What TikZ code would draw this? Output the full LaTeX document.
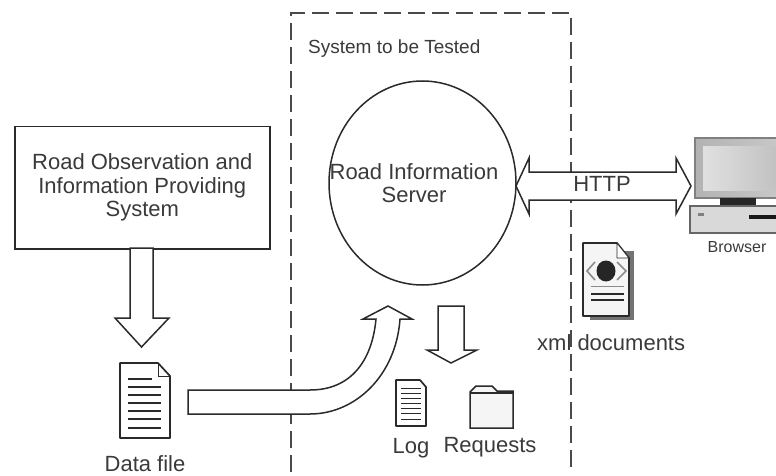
\documentclass[tikz,border=0pt]{standalone}
\usepackage{fontspec}
\setmainfont{Liberation Sans}
\usetikzlibrary{shapes.geometric}
\definecolor{ink}{HTML}{2A2A2A}
\definecolor{txt}{HTML}{3A3A3A}
\tikzset{
  x=1pt,y=-1pt,
  label text/.style={text=txt,font=\fontsize{22}{23.5}\selectfont,align=center,inner sep=0pt},
  title text/.style={text=txt,font=\fontsize{19}{21}\selectfont,inner sep=0pt},
  small text/.style={text=txt,font=\fontsize{16}{18}\selectfont,inner sep=0pt},
  outline/.style={draw=ink,line width=1.5pt},
  block/.style={draw=ink,line width=1.5pt,fill=white,line join=miter},
  boundary/.style={draw=ink!85,line width=2pt,dash pattern=on 17pt off 7pt},
  paper/.style={draw=ink,line width=1.7pt,fill=white,line join=round},
  rule/.style={draw=ink,line width=1.2pt},
}
\begin{document}
\begin{tikzpicture}
\useasboundingbox (0,0) rectangle (776,476);
% text crossed by the boundary
\node[label text,anchor=west] (xmltext) at (537,343) {xml documents};
% system boundary
\draw[boundary] (291,472) -- (291,13) -- (571,13) -- (571,472);
\node[title text,anchor=west] (systext) at (308,49) {System to be Tested};
% source system
\node[outline,fill=white,minimum width=255pt,minimum height=122pt,anchor=north west,label text,draw=ink] (source) at (14,126) {Road Observation and\\Information Providing\\System};
% server
\node[ellipse,outline,minimum width=187pt,minimum height=204pt,inner sep=0pt] (server) at (422.5,183) {};
\node[label text] (servertext) at (414,183) {Road Information\\Server};
% arrow source -> data file
\draw[block] (130,248) -- (130,318) -- (115,318) -- (141.5,347) -- (169,318) -- (153,318) -- (153,248) -- cycle;
% data file
\draw[paper] (120,363) -- (158,363) -- (170,376) -- (170,438) -- (120,438) -- cycle;
\draw[line width=.8pt,draw=ink] (158,363) -- (158,376) -- (170,376);
\foreach \y/\e in {379/152,387/161,395/161,403/161,411/161,419/161,428/161}{
  \draw[rule] (128,\y) -- (\e,\y);
}
\node[label text] (datatext) at (145,464) {Data file};
% curved arrow
\draw[block] (188,390) -- (310,390) .. controls (350,390) and (372,362) .. (376,319)
  -- (363,319) -- (388,306) -- (412,319) -- (400,319)
  .. controls (396,376) and (355,414) .. (310,414) -- (188,414) -- cycle;
% down arrow
\draw[block] (438,306) -- (464,306) -- (464,350) -- (477,350) -- (451,363) -- (427,350) -- (438,350) -- cycle;
% log
\draw[paper] (396,380) -- (420,380) -- (426,387) -- (426,426) -- (396,426) -- cycle;
\foreach \y in {388,393,398,403,408,413,419}{
  \draw[draw=ink,line width=.9pt] (401,\y) -- (421,\y);
}
\node[label text] (logtext) at (411,448) {Log};
% folder
\draw[outline,fill=black!4] (470,428) -- (470,392) -- (476,386) -- (492,386) -- (497,391) -- (513,391) -- (513,428) -- cycle;
\draw[draw=ink,line width=1.8pt] (470,393) -- (513,393);
\node[label text] (reqtext) at (490,447) {Requests};
% http arrow
\draw[block] (516,186) -- (529,158) -- (529,172) -- (676,172) -- (676,158) -- (691,186) -- (676,214) -- (676,200) -- (529,200) -- (529,214) -- cycle;
\node[label text] (httptext) at (602,184) {HTTP};
% xml document
\fill[black!55] (590,251) -- (634,251) -- (634,320) -- (590,320) -- cycle;
\draw[paper,fill=black!4] (583,243) -- (617,243) -- (629,258) -- (629,316) -- (583,316) -- cycle;
\draw[draw=ink,line width=.8pt,fill=white] (617,243) -- (617,258) -- (629,258) -- cycle;
\fill[black!85] (606,271) ellipse (9.5 and 10.5);
\draw[draw=black!45,line width=1.6pt] (595,262) -- (587,271) -- (595,280);
\draw[draw=black!45,line width=1.6pt] (617,262) -- (626,271) -- (617,280);
\draw[draw=black!45,line width=1pt] (591,286) -- (624,286);
\draw[rule] (591,294) -- (624,294);
\draw[rule] (591,300) -- (624,300);
% computer
\path[left color=black!30,right color=black!22] (695,138) rectangle (776,198);
\path[left color=black!12,right color=black!24] (703,146) rectangle (776,190);
\draw[draw=black!50,line width=1.2pt] (776,138) -- (695,138) -- (695,198) -- (776,198);
\fill[black!85] (720,198) rectangle (756,205);
\fill[black!15] (690,206) rectangle (776,233);
\draw[draw=black!60,line width=1.4pt] (776,206) -- (690,206) -- (690,233) -- (776,233);
\fill[black!90] (749,215) rectangle (776,219);
\fill[black!50] (698,213) rectangle (704,216);
\node[small text] (browsertext) at (737,247) {Browser};
\end{tikzpicture}
\end{document}
